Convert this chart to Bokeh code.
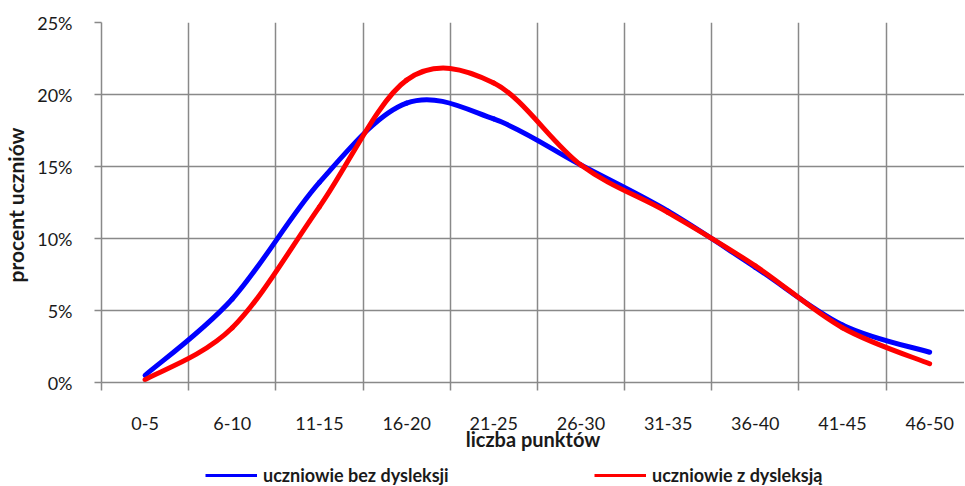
from bokeh.plotting import figure
from bokeh.layouts import column
from bokeh.models import Range1d, FixedTicker, PrintfTickFormatter, Legend, LegendItem
from bokeh.embed import file_html
from bokeh.resources import INLINE

categories = ["0-5", "6-10", "11-15", "16-20", "21-25", "26-30",
              "31-35", "36-40", "41-45", "46-50"]
bez_dysleksji = [0.5, 5.8, 13.9, 19.4, 18.3, 15.1, 11.9, 8.0, 4.0, 2.1]
z_dysleksja = [0.2, 3.8, 12.2, 21.0, 20.8, 15.1, 11.8, 8.1, 3.8, 1.3]
y_ticks = [0, 5, 10, 15, 20, 25]
series_names = ["uczniowie bez dysleksji", "uczniowie z dysleksją"]

FONT = "Lato"
GRID = "#898989"
BLUE = "#0000ff"
RED = "#ff0000"


def smooth_segments(ys):
    n = len(ys)
    xs = [i + 0.5 for i in range(n)]
    seg = dict(x0=[], y0=[], x1=[], y1=[], cx0=[], cy0=[], cx1=[], cy1=[])
    for i in range(n - 1):
        a = max(i - 1, 0)
        d = min(i + 2, n - 1)
        seg["x0"].append(xs[i]); seg["y0"].append(ys[i])
        seg["x1"].append(xs[i + 1]); seg["y1"].append(ys[i + 1])
        seg["cx0"].append(xs[i] + (xs[i + 1] - xs[a]) / 6)
        seg["cy0"].append(ys[i] + (ys[i + 1] - ys[a]) / 6)
        seg["cx1"].append(xs[i + 1] - (xs[d] - xs[i]) / 6)
        seg["cy1"].append(ys[i + 1] - (ys[d] - ys[i]) / 6)
    return seg


p = figure(width=964, height=459, output_backend="svg", toolbar_location=None,
           x_range=Range1d(0, 9.9), y_range=Range1d(0, 25),
           min_border_left=98, min_border_top=22, min_border_right=0,
           min_border_bottom=77)
p.outline_line_color = None
p.background_fill_color = "white"
p.border_fill_color = "white"

# x axis: labels at category centres, tick marks at boundaries
p.xaxis.ticker = FixedTicker(ticks=[i + 0.5 for i in range(len(categories))],
                             minor_ticks=list(range(len(categories) + 1)))
p.xaxis.major_label_overrides = {i + 0.5: c for i, c in enumerate(categories)}
p.xaxis.major_tick_out = 0
p.xaxis.major_tick_in = 0
p.xaxis.minor_tick_out = 8
p.xaxis.minor_tick_in = 0
p.xaxis.minor_tick_line_color = GRID
p.xaxis.minor_tick_line_width = 1.5
p.xaxis.axis_line_color = GRID
p.xaxis.axis_line_width = 1.5
p.xaxis.major_label_text_font = FONT
p.xaxis.major_label_text_font_size = "18px"
p.xaxis.major_label_text_color = "#1a1a1a"
p.xaxis.major_label_standoff = 26
p.xaxis.axis_label = "liczba punktów"
p.xaxis.axis_label_text_font = FONT
p.xaxis.axis_label_text_font_style = "bold"
p.xaxis.axis_label_text_font_size = "20px"
p.xaxis.axis_label_text_color = "#1a1a1a"
p.xaxis.axis_label_standoff = -6

p.yaxis.ticker = FixedTicker(ticks=y_ticks, minor_ticks=[])
p.yaxis.formatter = PrintfTickFormatter(format="%d%%")
p.yaxis.major_tick_out = 7
p.yaxis.major_tick_in = 0
p.yaxis.major_tick_line_color = GRID
p.yaxis.major_tick_line_width = 1.5
p.yaxis.axis_line_color = GRID
p.yaxis.axis_line_width = 1.5
p.yaxis.major_label_text_font = FONT
p.yaxis.major_label_text_font_size = "18px"
p.yaxis.major_label_text_color = "#1a1a1a"
p.yaxis.major_label_standoff = 22
p.yaxis.axis_label = "procent  uczniów"
p.yaxis.axis_label_text_font = FONT
p.yaxis.axis_label_text_font_style = "bold"
p.yaxis.axis_label_text_font_size = "21px"
p.yaxis.axis_label_text_color = "#1a1a1a"
p.yaxis.axis_label_standoff = 6

p.xgrid.ticker = FixedTicker(ticks=list(range(len(categories) + 1)))
p.ygrid.ticker = FixedTicker(ticks=y_ticks)
for g in (p.xgrid, p.ygrid):
    g.grid_line_color = GRID
    g.grid_line_width = 1.5

s1 = smooth_segments(bez_dysleksji)
s2 = smooth_segments(z_dysleksja)
p.bezier(line_color=BLUE, line_width=5, line_cap="round", **s1)
p.bezier(line_color=RED, line_width=5, line_cap="round", **s2)

# legend strip below the chart (its swatch renderers hold no visible data)
lg = figure(width=964, height=27, output_backend="svg", toolbar_location=None,
            x_range=Range1d(0, 1), y_range=Range1d(0, 1),
            x_axis_location=None, y_axis_location=None,
            min_border_left=0, min_border_top=0, min_border_right=0,
            min_border_bottom=0)
lg.grid.visible = False
lg.outline_line_color = None
lg.background_fill_color = "white"
nan = float("nan")
k1 = lg.line(x=[nan], y=[nan], line_color=BLUE, line_width=3)
k2 = lg.line(x=[nan], y=[nan], line_color=RED, line_width=3)
legend = Legend(items=[LegendItem(label=series_names[0], renderers=[k1]),
                       LegendItem(label=series_names[1], renderers=[k2])],
                orientation="horizontal", location=(104, 0),
                padding=0, margin=0, spacing=131, border_line_color=None,
                background_fill_alpha=0,
                glyph_width=52, glyph_height=18, label_standoff=6, label_width=200,
                label_text_font=FONT, label_text_font_style="bold",
                label_text_font_size="18px", label_text_color="#1a1a1a")
lg.add_layout(legend, "center")

open("out.html", "w").write(file_html(column(p, lg, spacing=0), INLINE))
